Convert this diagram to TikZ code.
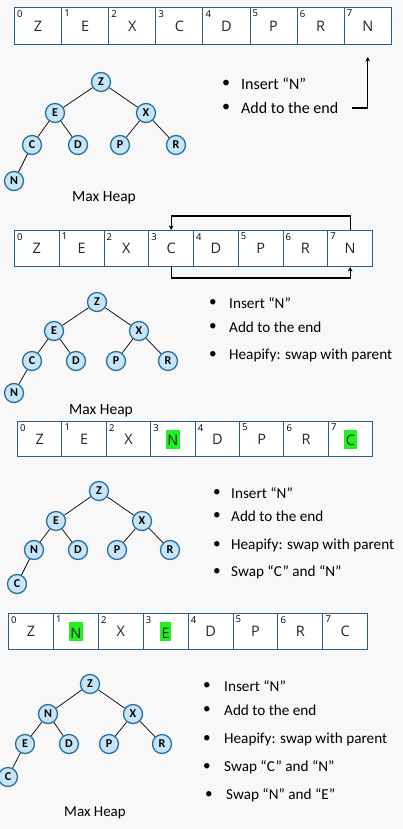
\documentclass[tikz,border=0pt]{standalone}
\usepackage{fontspec}
\setmainfont{Carlito}
\newfontfamily\arrfont{Open Sans}
\usetikzlibrary{arrows.meta}
\definecolor{bg}{HTML}{F8F8F8}
\definecolor{nodefill}{HTML}{C6E5F8}
\definecolor{nodeline}{HTML}{2A6E9E}
\definecolor{cellline}{HTML}{2A5E8C}
\definecolor{hlg}{HTML}{22F022}
\newcommand\hlt[1]{{\setlength\fboxsep{0pt}\colorbox{hlg}{\rule[-3pt]{0pt}{19pt}\hspace{1.5pt}#1\hspace{1.5pt}}}}
\begin{document}
\begin{tikzpicture}[x=1pt,y=-1pt,
  hnode/.style={circle, draw=nodeline, fill=nodefill, line width=1.3pt, minimum size=19pt, inner sep=0pt, font=\bfseries\fontsize{12}{13}\selectfont},
  edge/.style={draw=black, line width=0.7pt},
  cell/.style={draw=cellline, fill=white, line width=1pt, anchor=north west, inner sep=0pt, font=\arrfont\fontsize{14.5}{17}\selectfont, text=black!85},
  idx/.style={anchor=north west, inner sep=0pt, font=\arrfont\fontsize{9.5}{11}\selectfont},
  bul/.style={inner sep=0pt, font=\fontsize{15.2}{18}\selectfont},
  txt/.style={anchor=west, inner sep=0pt, font=\fontsize{15.2}{18}\selectfont},
  heapcap/.style={inner sep=0pt, font=\fontsize{15.5}{18}\selectfont},
  conn/.style={draw=black, line width=1.1pt, -{Stealth[length=4.5pt,width=4.5pt]}},
]
\useasboundingbox (0,0) rectangle (403,829);
\fill[bg] (0,0) rectangle (403,829);

% ---------- Section 1 ----------
\foreach \L [count=\i from 0] in {Z,E,X,C,D,P,R,N} {
  \node[cell, minimum width=47.1pt, minimum height=37pt] (a1-\i) at ({14+47.1*\i},7) {\L};
  \node[idx] (a1i-\i) at ([shift={(3pt,-3pt)}]a1-\i.north west) {\i};
}
\node[hnode] (t1z) at (101,82) {Z};
\node[hnode] (t1e) at (55,113) {E};
\node[hnode] (t1x) at (146,113) {X};
\node[hnode] (t1c) at (32,145) {C};
\node[hnode] (t1d) at (78,145) {D};
\node[hnode] (t1p) at (120,145) {P};
\node[hnode] (t1r) at (176,145) {R};
\node[hnode] (t1n) at (14,181) {N};
\draw[edge] (t1z)--(t1e) (t1z)--(t1x) (t1e)--(t1c) (t1e)--(t1d) (t1x)--(t1p) (t1x)--(t1r) (t1c)--(t1n);
\node[heapcap] (t1cap) at (104,198) {Max Heap};
\node[bul, font=\fontsize{16}{19}\selectfont] (s1b1) at (226,84) {•};
\node[txt, font=\fontsize{16}{19}\selectfont] (s1t1) at (241,84) {Insert “N”};
\node[bul, font=\fontsize{16}{19}\selectfont] (s1b2) at (226,108) {•};
\node[txt, font=\fontsize{16}{19}\selectfont] (s1t2) at (241,108) {Add to the end};
\draw[conn] ([xshift=14pt]s1t2.east) -| ([yshift=-12pt]a1-7.south);

% ---------- Section 2 ----------
\foreach \L [count=\i from 0] in {Z,E,X,C,D,P,R,N} {
  \node[cell, minimum width=44.75pt, minimum height=36pt] (a2-\i) at ({14+44.75*\i},230) {\L};
  \node[idx] (a2i-\i) at ([shift={(3pt,-3pt)}]a2-\i.north west) {\i};
}
\draw[conn] (a2-7.north) -- ++(0,-14) -| (a2-3.north);
\draw[conn] (a2-3.south) -- ++(0,11) -| (a2-7.south);
\node[hnode] (t2z) at (97,302) {Z};
\node[hnode] (t2e) at (54,331) {E};
\node[hnode] (t2x) at (139,331) {X};
\node[hnode] (t2c) at (32,361) {C};
\node[hnode] (t2d) at (76,361) {D};
\node[hnode] (t2p) at (116,361) {P};
\node[hnode] (t2r) at (168,361) {R};
\node[hnode] (t2n) at (14,393) {N};
\draw[edge] (t2z)--(t2e) (t2z)--(t2x) (t2e)--(t2c) (t2e)--(t2d) (t2x)--(t2p) (t2x)--(t2r) (t2c)--(t2n);
\node[heapcap] (t2cap) at (101,411) {Max Heap};
\node[bul] (s2b1) at (213,303) {•};
\node[txt] (s2t1) at (229,303) {Insert “N”};
\node[bul] (s2b2) at (213,327) {•};
\node[txt] (s2t2) at (229,327) {Add to the end};
\node[bul] (s2b3) at (213,355) {•};
\node[txt] (s2t3) at (229,355) {Heapify: swap with parent};

% ---------- Section 3 ----------
\foreach \L [count=\i from 0] in {Z,E,X,{\hlt{N}},D,P,R,{\hlt{C}}} {
  \node[cell, minimum width=44.4pt, minimum height=35pt] (a3-\i) at ({17+44.4*\i},421) {\L};
  \node[idx] (a3i-\i) at ([shift={(3pt,-3pt)}]a3-\i.north west) {\i};
}
\node[hnode] (t3z) at (99,491) {Z};
\node[hnode] (t3e) at (56,521) {E};
\node[hnode] (t3x) at (142,521) {X};
\node[hnode] (t3n) at (34,550) {N};
\node[hnode] (t3d) at (78,550) {D};
\node[hnode] (t3p) at (117,550) {P};
\node[hnode] (t3r) at (170,550) {R};
\node[hnode] (t3c) at (17,584) {C};
\draw[edge] (t3z)--(t3e) (t3z)--(t3x) (t3e)--(t3n) (t3e)--(t3d) (t3x)--(t3p) (t3x)--(t3r) (t3n)--(t3c);
\node[bul] (s3b1) at (217,493) {•};
\node[txt] (s3t1) at (231,493) {Insert “N”};
\node[bul] (s3b2) at (217,516) {•};
\node[txt] (s3t2) at (231,516) {Add to the end};
\node[bul] (s3b3) at (217,545) {•};
\node[txt] (s3t3) at (231,545) {Heapify: swap with parent};
\node[bul] (s3b4) at (217,572) {•};
\node[txt] (s3t4) at (231,572) {Swap “C” and “N”};

% ---------- Section 4 ----------
\foreach \L [count=\i from 0] in {Z,{\hlt{N}},X,{\hlt{E}},D,P,R,C} {
  \node[cell, minimum width=44.9pt, minimum height=36pt] (a4-\i) at ({8+44.9*\i},613) {\L};
  \node[idx] (a4i-\i) at ([shift={(3pt,-3pt)}]a4-\i.north west) {\i};
}
\node[hnode] (t4z) at (90,684) {Z};
\node[hnode] (t4n) at (48,714) {N};
\node[hnode] (t4x) at (133,714) {X};
\node[hnode] (t4e) at (25,744) {E};
\node[hnode] (t4d) at (69,744) {D};
\node[hnode] (t4p) at (109,744) {P};
\node[hnode] (t4r) at (162,744) {R};
\node[hnode] (t4c) at (8,777) {C};
\draw[edge] (t4z)--(t4n) (t4z)--(t4x) (t4n)--(t4e) (t4n)--(t4d) (t4x)--(t4p) (t4x)--(t4r) (t4e)--(t4c);
\node[heapcap, font=\fontsize{15}{18}\selectfont] (t4cap) at (95,813) {Max Heap};
\node[bul] (s4b1) at (207,686) {•};
\node[txt] (s4t1) at (224,686) {Insert “N”};
\node[bul] (s4b2) at (207,710) {•};
\node[txt] (s4t2) at (224,710) {Add to the end};
\node[bul] (s4b3) at (207,739) {•};
\node[txt] (s4t3) at (224,739) {Heapify: swap with parent};
\node[bul] (s4b4) at (207,767) {•};
\node[txt] (s4t4) at (224,767) {Swap “C” and “N”};
\node[bul] (s4b5) at (209,795) {•};
\node[txt] (s4t5) at (226,795) {Swap “N” and “E”};
\end{tikzpicture}
\end{document}
